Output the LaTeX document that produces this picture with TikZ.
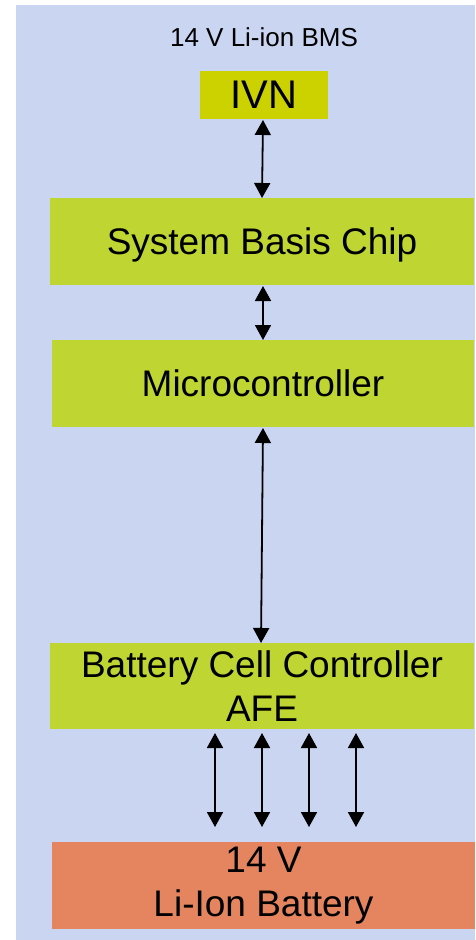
\documentclass[tikz,border=0pt]{standalone}
\usepackage{fontspec}
\setmainfont{Liberation Sans}
\usetikzlibrary{arrows.meta}
\definecolor{bgblue}{HTML}{C9D5F1}
\definecolor{ivncol}{HTML}{CCD100}
\definecolor{boxgreen}{HTML}{BED532}
\definecolor{battcol}{HTML}{E4855F}
\begin{document}
\begin{tikzpicture}[x=1pt,y=-1pt,
  blk/.style={draw=none,inner sep=0pt,outer sep=0pt,align=center,
    font=\fontsize{37}{44}\selectfont},
  one/.style={text depth=0pt},
  link/.style={line width=1.8pt,{Triangle[width=16pt,length=15pt]}-{Triangle[width=16pt,length=15pt]}}]
\useasboundingbox (0,0) rectangle (475,940);
\fill[bgblue] (16,5) rectangle (475,940);
\node[font=\fontsize{26}{30}\selectfont,text depth=0pt] (title) at (264,37) {14 V Li-ion BMS};
\node[blk,one,fill=ivncol,minimum width=128pt,minimum height=48pt,font=\fontsize{40}{44}\selectfont] (ivn) at (264,95) {IVN};
\node[blk,one,fill=boxgreen,minimum width=424pt,minimum height=87pt] (sbc) at (262,241.5) {System Basis Chip};
\node[blk,one,fill=boxgreen,minimum width=422pt,minimum height=87pt] (mc) at (263,383.5) {Microcontroller};
\node[blk,fill=boxgreen,minimum width=424pt,minimum height=86pt] (bcc) at (262,686) {Battery Cell Controller\\AFE};
\node[blk,fill=battcol,minimum width=423pt,minimum height=87pt] (bat) at (263.5,885.5) {14 V\\Li-Ion Battery};
\coordinate (i1) at (263,120);
\coordinate (s1) at (262,198);
\coordinate (s2) at (263,286);
\coordinate (m1) at (263,340);
\coordinate (m2) at (263,428);
\coordinate (b1) at (261,643);
\draw[link] (i1) -- (s1);
\draw[link] (s2) -- (m1);
\draw[link] (m2) -- (b1);
\foreach \x/\n in {215/a,262/b,309/c,356/d}{
  \coordinate (t\n) at (\x,733);
  \coordinate (u\n) at (\x,827);
  \draw[link] (t\n) -- (u\n);
}
\end{tikzpicture}
\end{document}
